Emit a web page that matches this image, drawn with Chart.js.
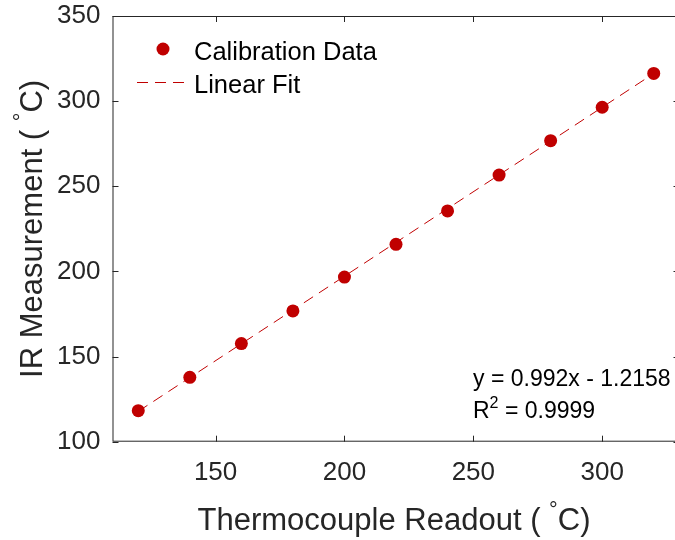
<!DOCTYPE html>
<html>
<head>
<meta charset="utf-8">
<script src="https://cdn.jsdelivr.net/npm/chart.js@4.4.1/dist/chart.umd.min.js"></script>
<style>
  html, body { margin: 0; padding: 0; background: #fff; overflow: hidden; }
  #wrap { width: 680px; height: 540px; position: relative; }
</style>
</head>
<body>
<div id="wrap"><canvas id="c" width="680" height="540"></canvas></div>
<script>
// Calibration measurements: thermocouple readout vs IR reading (°C)
const calX = [120, 140, 160, 180, 200, 220, 240, 260, 280, 300, 320];
const calY = [118.2, 137.8, 157.6, 176.8, 196.7, 215.9, 235.5, 256.6, 276.8, 296.4, 316.3];

// Least-squares line y = 0.992x - 1.2158, end points over the measured range
const fitX = [120, 320];
const fitY = [117.82, 316.22];

const xTicks = [150, 200, 250, 300];
const yTicks = [100, 150, 200, 250, 300, 350];

const eqLine1 = 'y = 0.992x - 1.2158';
const eqLine2 = ['R', '2', ' = 0.9999'];

const FONT = '"Liberation Sans", Arial, Helvetica, sans-serif';
const INK = '#262626';
const RED = '#C00000';

// Draws text made of plain and superscript pieces starting at (x, y) baseline
function richText(ctx, parts, x, y, size) {
  let cx = x;
  for (const p of parts) {
    const s = p.sup ? size * 0.7 : size;
    ctx.font = s + 'px ' + FONT;
    ctx.fillText(p.t, cx, p.sup ? y - size * 0.42 : y);
    cx += ctx.measureText(p.t).width;
  }
  return cx - x;
}
function richWidth(ctx, parts, size) {
  let w = 0;
  for (const p of parts) {
    ctx.font = (p.sup ? size * 0.7 : size) + 'px ' + FONT;
    w += ctx.measureText(p.t).width;
  }
  return w;
}

function noPad(scale) {
  scale.paddingLeft = 0; scale.paddingRight = 0;
  scale.paddingTop = 0; scale.paddingBottom = 0;
}

const frame = {
  id: 'frame',
  beforeDatasetsDraw(chart) {
    const { ctx, chartArea: a, scales } = chart;
    ctx.save();
    ctx.strokeStyle = INK;
    ctx.lineWidth = 1;
    ctx.strokeRect(a.left + 0.5, a.top + 0.5, a.right - a.left - 1, a.bottom - a.top - 1);
    const tl = 6;
    ctx.beginPath();
    for (const v of xTicks) {
      const px = Math.round(scales.x.getPixelForValue(v)) + 0.5;
      ctx.moveTo(px, a.bottom); ctx.lineTo(px, a.bottom - tl);
      ctx.moveTo(px, a.top); ctx.lineTo(px, a.top + tl);
    }
    for (const v of yTicks) {
      const py = Math.round(scales.y.getPixelForValue(v)) + 0.5;
      ctx.moveTo(a.left, py); ctx.lineTo(a.left + tl, py);
      ctx.moveTo(a.right, py); ctx.lineTo(a.right - tl, py);
    }
    ctx.stroke();
    ctx.restore();
  },
  afterDraw(chart) {
    const { ctx, chartArea: a } = chart;
    ctx.save();
    ctx.fillStyle = INK;
    ctx.textBaseline = 'alphabetic';
    ctx.textAlign = 'left';

    // Axis titles
    const tSize = 31;
    const xt = [{ t: 'Thermocouple Readout ( ' }, { t: '°', sup: true }, { t: 'C)' }];
    const xw = richWidth(ctx, xt, tSize);
    richText(ctx, xt, 394 - xw / 2, 530, tSize);

    const yt = [{ t: 'IR Measurement ( ' }, { t: '°', sup: true }, { t: 'C)' }];
    const yw = richWidth(ctx, yt, tSize);
    ctx.save();
    ctx.translate(42, (a.top + a.bottom) / 2);
    ctx.rotate(-Math.PI / 2);
    richText(ctx, yt, -yw / 2, 0, tSize);
    ctx.restore();

    // Legend
    ctx.fillStyle = RED;
    ctx.beginPath();
    ctx.arc(163, 49, 6.5, 0, Math.PI * 2);
    ctx.fill();
    ctx.strokeStyle = RED;
    ctx.lineWidth = 1;
    ctx.setLineDash([11, 7]);
    ctx.beginPath();
    ctx.moveTo(137, 82.5); ctx.lineTo(191, 82.5);
    ctx.stroke();
    ctx.setLineDash([]);
    ctx.fillStyle = '#000';
    ctx.font = '25.5px ' + FONT;
    ctx.fillText('Calibration Data', 194, 60);
    ctx.fillText('Linear Fit', 194, 93);

    // Fit equation
    ctx.font = '23px ' + FONT;
    ctx.fillText(eqLine1, 473, 386);
    richText(ctx, [{ t: eqLine2[0] }, { t: eqLine2[1], sup: true }, { t: eqLine2[2] }], 473, 418, 23);
    ctx.restore();
  }
};

new Chart(document.getElementById('c'), {
  type: 'scatter',
  data: {
    datasets: [
      {
        label: 'Calibration Data',
        data: calX.map((x, i) => ({ x, y: calY[i] })),
        backgroundColor: RED,
        borderColor: RED,
        borderWidth: 0,
        pointRadius: 6.5,
        pointHoverRadius: 6.5,
        showLine: false,
        order: 0
      },
      {
        label: 'Linear Fit',
        data: fitX.map((x, i) => ({ x, y: fitY[i] })),
        borderColor: RED,
        borderWidth: 1,
        borderDash: [11, 7],
        pointRadius: 0,
        showLine: true,
        fill: false,
        order: 1
      }
    ]
  },
  options: {
    responsive: false,
    animation: false,
    events: [],
    layout: { autoPadding: false, padding: { top: 16, right: 0.5, left: 0, bottom: 0 } },
    plugins: { legend: { display: false }, tooltip: { enabled: false } },
    scales: {
      x: {
        type: 'linear',
        min: 110,
        max: 330,
        afterBuildTicks(scale) { scale.ticks = xTicks.map(v => ({ value: v })); },
        afterFit(scale) { scale.height = 540 - 441.7; noPad(scale); },
        grid: { display: false, drawTicks: false },
        border: { display: false },
        ticks: {
          color: INK,
          padding: 16,
          maxRotation: 0,
          font: { family: FONT, size: 26 }
        }
      },
      y: {
        type: 'linear',
        min: 100,
        max: 350,
        afterBuildTicks(scale) { scale.ticks = yTicks.map(v => ({ value: v })); },
        afterFit(scale) { scale.width = 112.5; noPad(scale); },
        grid: { display: false, drawTicks: false },
        border: { display: false },
        ticks: {
          color: INK,
          padding: 12,
          font: { family: FONT, size: 26 }
        }
      }
    }
  },
  plugins: [frame]
});
</script>
</body>
</html>
